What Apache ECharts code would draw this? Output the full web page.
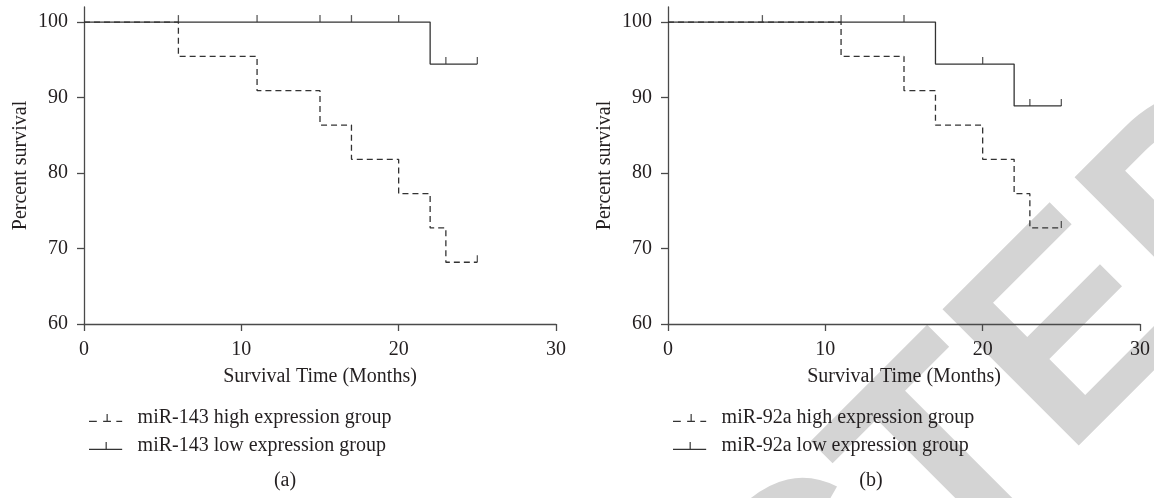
<!DOCTYPE html>
<html>
<head>
<meta charset="utf-8">
<script src="https://cdn.jsdelivr.net/npm/echarts@6/dist/echarts.min.js"></script>
<style>
html,body{margin:0;padding:0;background:#fff;}
#chart{width:1154px;height:498px;}
</style>
</head>
<body>
<div id="chart"></div>
<script>
// ---- data ----
const yTickValues = [60, 70, 80, 90, 100];
const xTickValues = [0, 10, 20, 30];

// panel (a): miR-143
const aHighTimes = [0, 6, 11, 15, 17, 20, 22, 23, 25];
const aHighSurv  = [100, 95.45, 90.91, 86.36, 81.82, 77.27, 72.73, 68.18, 68.18];
const aHighCensorTimes = [25];
const aHighCensorSurv  = [68.18];
const aLowTimes = [0, 22, 25];
const aLowSurv  = [100, 94.44, 94.44];
const aLowCensorTimes = [6, 11, 15, 17, 20, 23, 25];
const aLowCensorSurv  = [100, 100, 100, 100, 100, 94.44, 94.44];

// panel (b): miR-92a
const bHighTimes = [0, 11, 15, 17, 20, 22, 23, 25];
const bHighSurv  = [100, 95.45, 90.91, 86.36, 81.82, 77.27, 72.73, 72.73];
const bHighCensorTimes = [25];
const bHighCensorSurv  = [72.73];
const bLowTimes = [0, 17, 22, 25];
const bLowSurv  = [100, 94.44, 88.89, 88.89];
const bLowCensorTimes = [6, 11, 15, 20, 23, 25];
const bLowCensorSurv  = [100, 100, 100, 94.44, 88.89, 88.89];

const aNames = ['miR-143 high expression group', 'miR-143 low expression group'];
const bNames = ['miR-92a high expression group', 'miR-92a low expression group'];
const panelLabels = ['(a)', '(b)'];

// ---- styles ----
const FONT = '"Liberation Serif", "DejaVu Serif", serif';
const TXT = '#231f20';
const LINE = '#333333';
const AXIS = '#4a4a4a';
const dashIcon = 'path://M0,7h8v1.2h-8z M14.5,7h8v1.2h-8z M18,0h1.2v7h-1.2z M28,7h6v1.2h-6z';
const solidIcon = 'path://M0,7h34v1.2h-34z M17,0h1.2v7h-1.2z';

function zip(xs, ys) { return xs.map((x, i) => [x, ys[i]]); }

function makeAxes(idx) {
  return {
    x: {
      type: 'value', gridIndex: idx, min: 0, max: 30, interval: 10,
      name: 'Survival Time (Months)', nameLocation: 'middle', nameGap: 43,
      nameTextStyle: { fontFamily: FONT, fontSize: 20, color: TXT },
      axisLine: { show: true, onZero: false, lineStyle: { color: AXIS, width: 1.3 } },
      axisTick: { show: true, length: 7, lineStyle: { color: AXIS, width: 1.3 } },
      axisLabel: { fontFamily: FONT, fontSize: 20, color: TXT, margin: 16 },
      splitLine: { show: false }
    },
    y: {
      type: 'value', gridIndex: idx, min: 60, max: 102, interval: 10,
      name: 'Percent survival', nameLocation: 'middle', nameGap: 53,
      nameTextStyle: { fontFamily: FONT, fontSize: 20, color: TXT },
      axisLine: { show: true, onZero: false, lineStyle: { color: AXIS, width: 1.3 } },
      axisTick: { show: true, length: 7, customValues: yTickValues, lineStyle: { color: AXIS, width: 1.3 } },
      axisLabel: { fontFamily: FONT, fontSize: 20, color: TXT, margin: 16, customValues: yTickValues },
      splitLine: { show: false }
    }
  };
}

function stepSeries(name, times, surv, idx, dashed) {
  return {
    name: name, type: 'line', step: 'end', xAxisIndex: idx, yAxisIndex: idx,
    data: zip(times, surv), symbol: 'none', showSymbol: false,
    itemStyle: { color: LINE },
    lineStyle: { color: LINE, width: 1.3, type: dashed ? [6, 4] : 'solid' },
    z: 3, silent: true
  };
}
function censorSeries(times, surv, idx) {
  return {
    type: 'scatter', xAxisIndex: idx, yAxisIndex: idx,
    data: zip(times, surv), symbol: 'rect', symbolSize: [1.3, 7], symbolOffset: [0, -3.5],
    itemStyle: { color: LINE }, z: 4, silent: true
  };
}
function makeLegend(left, names) {
  return {
    left: left, top: 403, orient: 'vertical', itemWidth: 34, itemHeight: 8, itemGap: 8,
    selectedMode: false,
    itemStyle: { borderWidth: 0 },
    textStyle: { fontFamily: FONT, fontSize: 20, color: TXT, lineHeight: 20, padding: [0, 0, 0, 10] },
    data: [{ name: names[0], icon: dashIcon }, { name: names[1], icon: solidIcon }]
  };
}

const A = makeAxes(0), B = makeAxes(1);

const option = {
  animation: false,
  backgroundColor: '#ffffff',
  grid: [
    { left: 84, right: 598, top: 7, bottom: 174 },
    { left: 668, right: 14, top: 7, bottom: 174 }
  ],
  xAxis: [A.x, B.x],
  yAxis: [A.y, B.y],
  legend: [makeLegend(84, aNames), makeLegend(668, bNames)],
  graphic: [
    {
      type: 'text', x: 65, y: 1350, rotation: Math.PI / 4, z: -10, silent: true,
      style: {
        text: 'RETRACTED', fill: '#d4d4d4',
        font: 'bold 280px "Liberation Sans", Arial, sans-serif',
        align: 'left', verticalAlign: 'middle', textAlign: 'left', textVerticalAlign: 'middle'
      }
    },
    {
      type: 'text', x: 285, y: 481, z: 5, silent: true,
      style: { text: panelLabels[0], fill: TXT, font: '20px ' + FONT, align: 'center', verticalAlign: 'middle', textAlign: 'center', textVerticalAlign: 'middle' }
    },
    {
      type: 'text', x: 871, y: 481, z: 5, silent: true,
      style: { text: panelLabels[1], fill: TXT, font: '20px ' + FONT, align: 'center', verticalAlign: 'middle', textAlign: 'center', textVerticalAlign: 'middle' }
    }
  ],
  series: [
    stepSeries(aNames[0], aHighTimes, aHighSurv, 0, true),
    stepSeries(aNames[1], aLowTimes, aLowSurv, 0, false),
    censorSeries(aHighCensorTimes, aHighCensorSurv, 0),
    censorSeries(aLowCensorTimes, aLowCensorSurv, 0),
    stepSeries(bNames[0], bHighTimes, bHighSurv, 1, true),
    stepSeries(bNames[1], bLowTimes, bLowSurv, 1, false),
    censorSeries(bHighCensorTimes, bHighCensorSurv, 1),
    censorSeries(bLowCensorTimes, bLowCensorSurv, 1)
  ]
};

const chart = echarts.init(document.getElementById('chart'), null, { renderer: 'canvas' });
chart.setOption(option);
</script>
</body>
</html>
